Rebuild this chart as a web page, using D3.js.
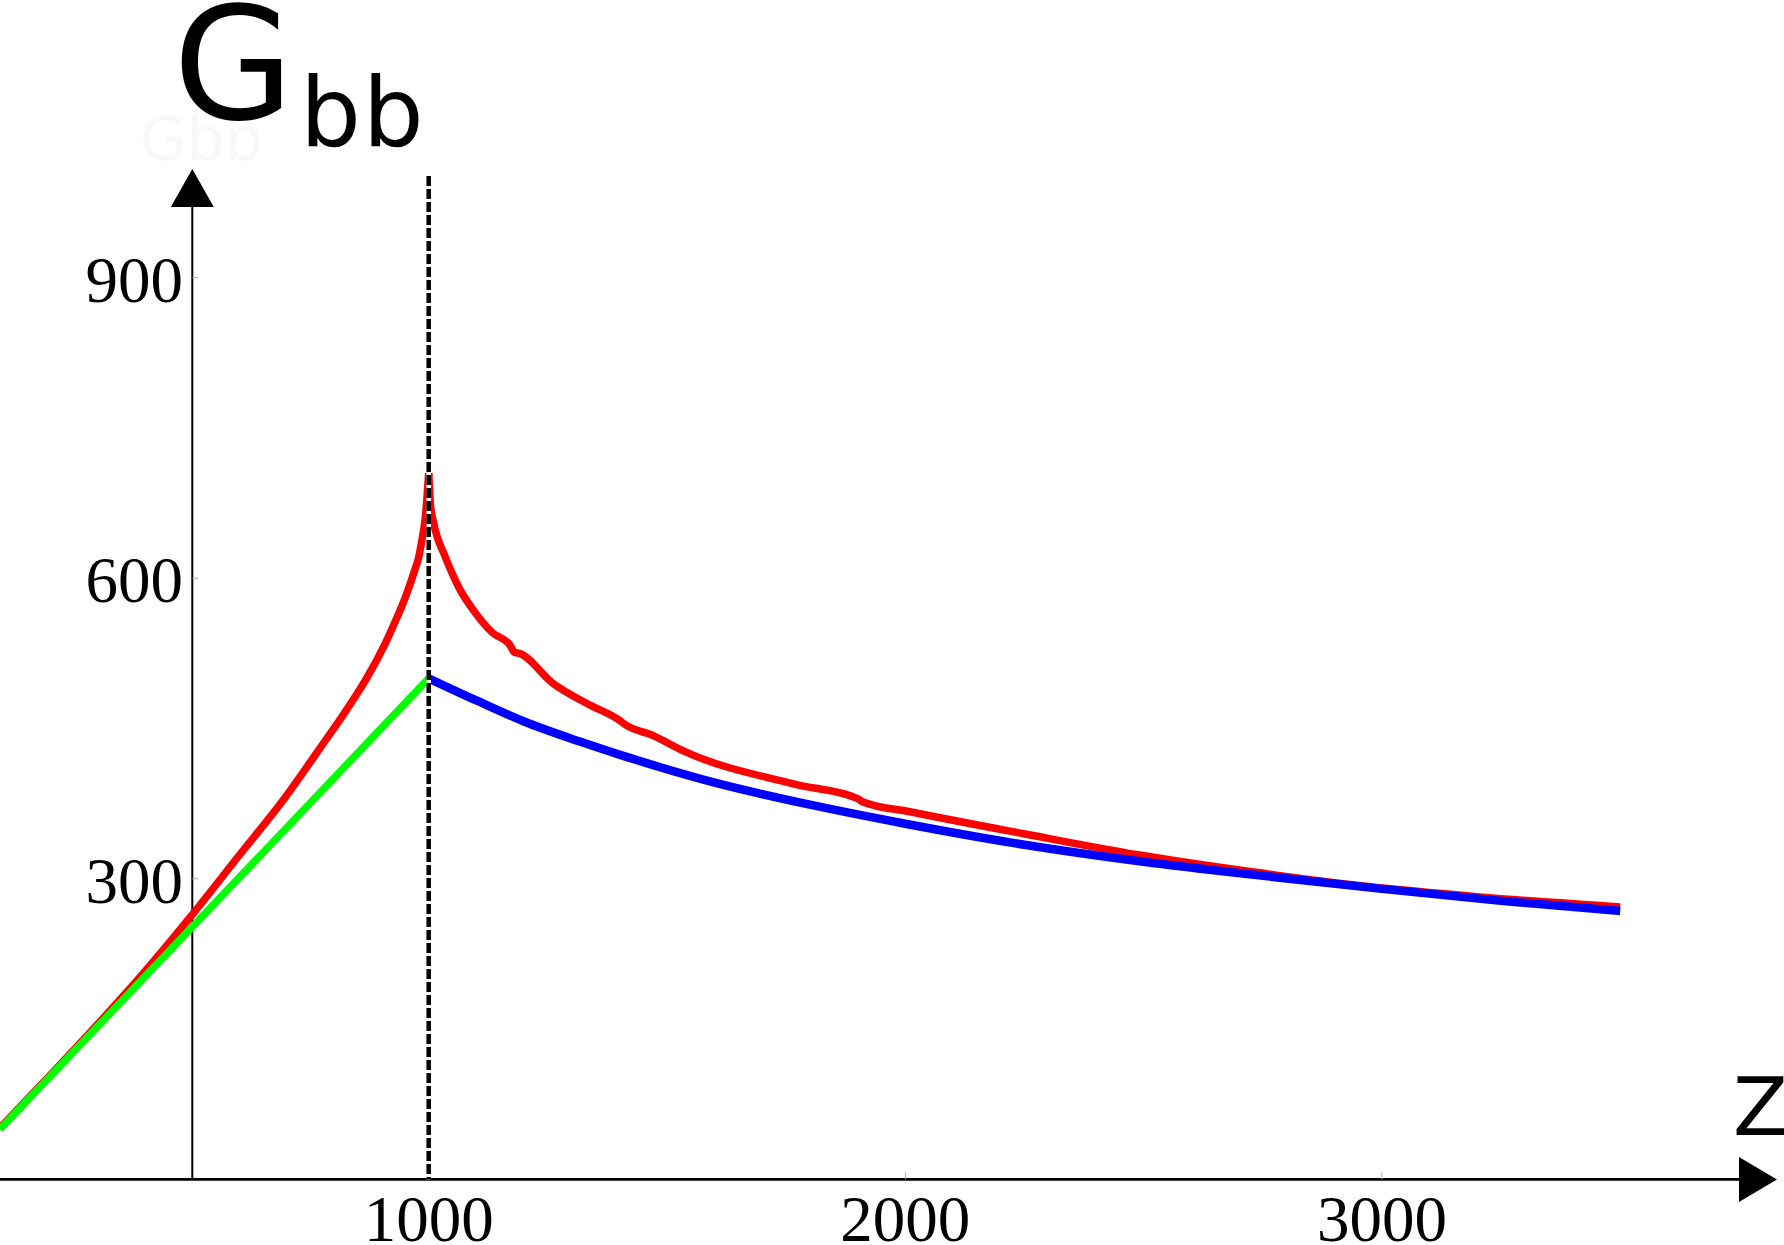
<!DOCTYPE html>
<html>
<head>
<meta charset="utf-8">
<script src="https://cdn.jsdelivr.net/npm/d3@7"></script>
<style>
  html, body { margin: 0; padding: 0; background: #fff; }
  svg { display: block; }
</style>
</head>
<body>
<script>
// tick values
const zTicks = [1000, 2000, 3000];
const gTicks = [300, 600, 900];

// green branch (z < 1000)
const greenZ = [100, 500, 1000];
const greenG = [50, 250, 500];

// blue branch (z > 1000)
const blueZ = [1000, 1100, 1200, 1317, 1400, 1600, 1800, 2000, 2250, 2500, 2750, 3000, 3250, 3500];
const blueG = [500, 478, 457, 437, 424, 396, 374, 355, 334, 317, 303, 290, 278, 268];

// red curve, with the small numeric glitches
const redZ = [100, 200, 300, 400, 500, 600, 700, 783, 811, 850, 867, 909, 930, 951, 970, 979, 985, 993, 1000,
    1004, 1010, 1035, 1052, 1063, 1094, 1133, 1171, 1180, 1190, 1261, 1332, 1401, 1412, 1471,
    1533, 1772, 1900, 1910, 2010, 2249, 2488, 2727, 2966, 3204, 3500];
const redG = [51, 101, 152, 205, 262, 322, 382, 438, 457, 485, 498, 535, 557, 581, 607, 621, 636, 661, 705,
    672, 656, 621, 602, 591, 568, 546, 533, 526, 525, 495, 475, 458, 454, 443,
    428, 394, 380, 377, 367, 345, 324, 307, 292.5, 282, 272];

const width = 1784, height = 1245;

const svg = d3.select("body").append("svg")
    .attr("width", width)
    .attr("height", height)
    .attr("viewBox", `0 0 ${width} ${height}`);

const x = d3.scaleLinear().domain([1000, 2000]).range([428.7, 905.3]);
const y = d3.scaleLinear().domain([0, 900]).range([1179.4, 277.7]);

const zAxisPos = 504;   // where the vertical axis crosses
const x0 = x(zAxisPos), y0 = y(0);

const line = d3.line()
    .x(d => x(d[0]))
    .y(d => y(d[1]));

const smooth = d3.line()
    .x(d => x(d[0]))
    .y(d => y(d[1]))
    .curve(d3.curveMonotoneX);

const zip = (a, b) => a.map((v, i) => [v, b[i]]);

// faint ghost label behind the real one
svg.append("text")
    .attr("x", 140).attr("y", 160)
    .attr("font-family", "DejaVu Sans")
    .attr("font-size", 60)
    .attr("fill", "#f8f8f8")
    .text("Gbb");

// axes
svg.append("line")
    .attr("x1", 0).attr("x2", 1740)
    .attr("y1", y0).attr("y2", y0)
    .attr("stroke", "#000").attr("stroke-width", 2.7);

svg.append("path")
    .attr("d", `M1777,${y0} L1739,${y0 - 22.5} L1739,${y0 + 22.5} Z`)
    .attr("fill", "#000");

svg.append("line")
    .attr("x1", x0).attr("x2", x0)
    .attr("y1", y0).attr("y2", 205)
    .attr("stroke", "#000").attr("stroke-width", 2);

svg.append("path")
    .attr("d", `M${x0},169 L${x0 - 21.5},207 L${x0 + 21.5},207 Z`)
    .attr("fill", "#000");

// tick marks
svg.selectAll("line.zt")
    .data(zTicks)
    .enter().append("line")
    .attr("class", "zt")
    .attr("x1", d => x(d)).attr("x2", d => x(d))
    .attr("y1", y0).attr("y2", y0 - 7)
    .attr("stroke", "#aaa").attr("stroke-width", 1);

svg.selectAll("line.gt")
    .data(gTicks)
    .enter().append("line")
    .attr("class", "gt")
    .attr("x1", x0).attr("x2", x0 + 6)
    .attr("y1", d => y(d)).attr("y2", d => y(d))
    .attr("stroke", "#aaa").attr("stroke-width", 1);

// tick labels
svg.selectAll("text.zl")
    .data(zTicks)
    .enter().append("text")
    .attr("class", "zl")
    .attr("x", d => x(d))
    .attr("y", 1241)
    .attr("text-anchor", "middle")
    .attr("font-family", "Liberation Serif")
    .attr("font-size", 65)
    .text(d => d);

svg.selectAll("text.gl")
    .data(gTicks)
    .enter().append("text")
    .attr("class", "gl")
    .attr("x", 183)
    .attr("y", d => y(d) + 24)
    .attr("text-anchor", "end")
    .attr("font-family", "Liberation Serif")
    .attr("font-size", 65)
    .text(d => d);

// curves: red drawn as two smooth halves so the cusp stays sharp
const red = zip(redZ, redG);
const peak = d3.maxIndex(redG);

[red.slice(0, peak + 1), red.slice(peak)].forEach(part => {
    svg.append("path")
        .attr("d", smooth(part))
        .attr("fill", "none")
        .attr("stroke", "#ff0000")
        .attr("stroke-width", 7.5)
        .attr("stroke-linejoin", "round");
});

svg.append("path")
    .attr("d", line(zip(greenZ, greenG)))
    .attr("fill", "none")
    .attr("stroke", "#00ff00")
    .attr("stroke-width", 7.5);

svg.append("path")
    .attr("d", smooth(zip(blueZ, blueG)))
    .attr("fill", "none")
    .attr("stroke", "#0000ff")
    .attr("stroke-width", 8.5)
    .attr("stroke-linejoin", "round");

// dashed marker at z = 1000
svg.append("line")
    .attr("x1", x(1000)).attr("x2", x(1000))
    .attr("y1", 176).attr("y2", y0)
    .attr("stroke", "#fff").attr("stroke-width", 4.5);

svg.append("line")
    .attr("x1", x(1000)).attr("x2", x(1000))
    .attr("y1", 176).attr("y2", y0)
    .attr("stroke", "#000").attr("stroke-width", 4.5)
    .attr("stroke-dasharray", "10,3");

// axis labels
const title = svg.append("text")
    .attr("x", 173)
    .attr("y", 119)
    .attr("font-family", "DejaVu Sans")
    .attr("fill", "#000");
title.append("tspan").attr("font-size", 156).text("G");
title.append("tspan")
    .attr("font-size", 96)
    .attr("letter-spacing", 2)
    .attr("dx", 6)
    .attr("dy", 27)
    .text("bb");

svg.append("text")
    .attr("x", 1733)
    .attr("y", 1135)
    .attr("font-family", "DejaVu Sans")
    .attr("font-size", 80)
    .text("Z");
</script>
</body>
</html>
